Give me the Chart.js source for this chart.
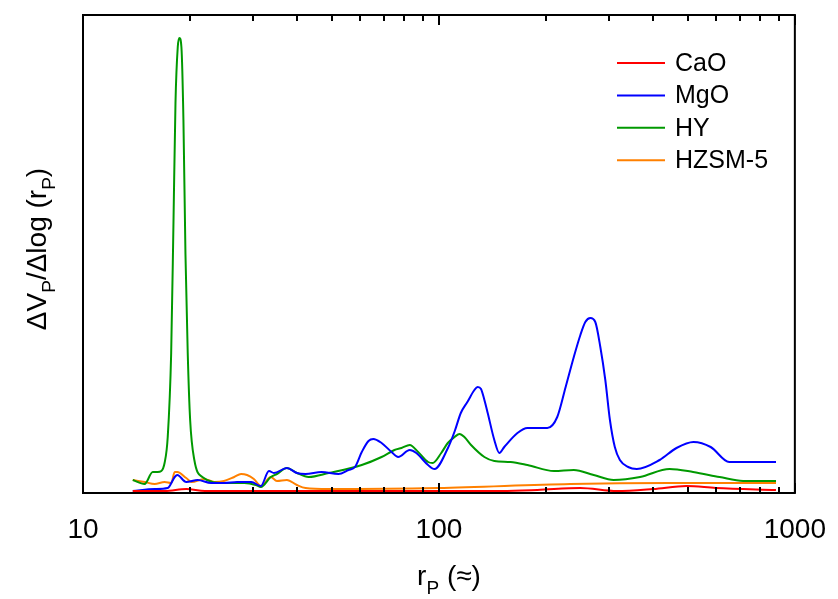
<!DOCTYPE html>
<html>
<head>
<meta charset="utf-8">
<script src="https://cdn.jsdelivr.net/npm/chart.js@4"></script>
<style>
  html, body { margin: 0; padding: 0; background: #fff; }
  #wrap { width: 838px; height: 599px; }
</style>
</head>
<body>
<div id="wrap"><canvas id="grafico" width="838" height="599"></canvas></div>
<script>
// pore radius (x) and dV/dlog(r) values (arbitrary units)
const rCaO = [13.8, 17.0, 19.5, 22.0, 30.0, 50.0, 99.4, 150, 189, 249.3, 316.2, 400, 496.1, 600, 885];
const vCaO = [2, 2, 4, 2, 2, 2, 2, 2, 3, 5, 2, 4, 7, 5, 3];

const rMgO = [13.8, 15.9, 17.3, 18.1, 18.4, 19.5, 21.0, 22.9, 24.9, 27.1, 29.7, 31.6, 33.3, 34.4, 37.4, 39.9, 42.2, 46.8, 52.2, 55.7,
    58.1, 60.7, 63.4, 65.4, 69.0, 73.6, 76.8, 82.8, 86.4, 93.2, 97.2, 106, 110.8, 115.2, 120.2, 125.8, 128.5, 131.3, 134.2, 137.1,
    143.1, 147.8, 152.6, 166.2, 177.3, 190, 201.6, 215.0, 227, 239.3, 249.7, 257.8, 266.3, 275.0, 284.1, 293.4, 302.3, 312, 322.4, 340,
    359.7, 417.0, 465, 518.9, 580, 654.0, 700, 885];
const vMgO = [2, 4, 5, 16, 18, 11, 13, 10, 10, 11, 11, 7, 22, 20, 25, 20, 19, 21, 19, 23,
    26, 41, 52, 54, 50, 41, 36, 43, 40, 28, 24, 45, 62, 80, 91, 103, 106, 104, 93, 80,
    53, 40, 46, 60, 65, 65, 65, 76, 106, 136, 158, 171, 175, 171, 146, 113, 73, 46, 33, 26,
    24, 33, 45, 51, 46, 31, 31, 31];

const rHY = [13.8, 14.9, 15.7, 16.2, 16.6, 16.95, 17.3, 17.69, 17.96, 18.19, 18.46, 18.66, 18.90, 19.15, 19.40, 19.69, 20.0, 20.55, 21.64,
    24.9, 26.6, 28.4, 30.6, 31.6, 33.7, 35.05, 37.4, 39.9, 43.06, 49.0, 60.7, 69.0, 75.0, 78.5, 82.8, 87.4, 93.2, 96, 101.5, 105.9,
    110.6, 114.3, 117.9, 123.1, 134.2, 143.1, 158.9, 177.3, 210.5, 239.3, 272.2, 309.7, 367.4, 444.6, 517.8, 614.5, 715.6, 885];
const vHY = [13, 9, 21, 21, 22, 30, 56, 140, 273, 390, 446, 455, 446, 373, 240, 140, 73, 33, 16,
    10, 10, 10, 8, 6, 16, 19, 25, 20, 16, 20, 28, 36, 43, 45, 48, 41, 31, 30, 40, 50,
    56, 59, 56, 48, 36, 32, 31, 28, 22, 23, 18, 13, 16, 24, 21, 16, 12, 12];

const rHZSM = [13.8, 14.9, 15.9, 16.95, 17.7, 18.1, 18.4, 19.5, 20.2, 21.9, 23.4, 24.9, 26.6, 27.8, 28.9, 30.2, 31.6, 33.7, 35.05,
    37.4, 39.9, 42.2, 49.0, 99.4, 233.8, 444.6, 885];
const vHZSM = [13, 11, 9, 11, 10, 21, 21, 15, 11, 14, 11, 12, 16, 19, 18, 14, 7, 16, 12,
    13, 8, 5, 4, 5, 9, 10, 10];

const nomes = ["CaO", "MgO", "HY", "HZSM-5"];
const cores = ["#ff0000", "#0000ff", "#009900", "#ff8000"];
const ticksX = [10, 20, 30, 40, 50, 60, 70, 80, 90, 100, 200, 300, 400, 500, 600, 700, 800, 900, 1000];
const rotulosX = [10, 100, 1000];

const fonte = "'Liberation Sans', Arial, sans-serif";

function pares(xs, ys) {
    return xs.map((x, i) => ({ x: x, y: ys[i] }));
}

// text with subscript pieces, centred on (x, y) baseline
function textoComIndice(ctx, partes, x, y, tam) {
    const sub = Math.round(tam * 0.68);
    let largura = 0;
    partes.forEach(p => {
        ctx.font = (p[1] ? sub : tam) + "px " + fonte;
        largura += ctx.measureText(p[0]).width;
    });
    let cx = x - largura / 2;
    ctx.textAlign = "left";
    ctx.textBaseline = "alphabetic";
    partes.forEach(p => {
        ctx.font = (p[1] ? sub : tam) + "px " + fonte;
        ctx.fillText(p[0], cx, p[1] ? y + tam * 0.32 : y);
        cx += ctx.measureText(p[0]).width;
    });
}

const moldura = {
    id: "moldura",
    afterDraw(chart) {
        const ctx = chart.ctx;
        const a = chart.chartArea;
        const sx = chart.scales.x;
        ctx.save();
        ctx.strokeStyle = "#000";
        ctx.fillStyle = "#000";

        // inward ticks, bottom and top
        ctx.lineWidth = 2;
        ticksX.forEach(v => {
            const px = Math.round(sx.getPixelForValue(v));
            const len = rotulosX.includes(v) ? 10 : 6;
            ctx.beginPath();
            ctx.moveTo(px, a.bottom);
            ctx.lineTo(px, a.bottom - len);
            ctx.moveTo(px, a.top);
            ctx.lineTo(px, a.top + len);
            ctx.stroke();
        });

        ctx.lineWidth = 2;
        ctx.strokeRect(a.left, a.top, a.right - a.left, a.bottom - a.top);

        // legend
        ctx.lineWidth = 2;
        chart.data.datasets.forEach((ds, i) => {
            const y = 63 + i * 32.4;
            ctx.strokeStyle = ds.borderColor;
            ctx.beginPath();
            ctx.moveTo(617, y);
            ctx.lineTo(665, y);
            ctx.stroke();
            ctx.font = "25px " + fonte;
            ctx.textAlign = "left";
            ctx.textBaseline = "middle";
            ctx.fillText(ds.label, 675, y + 1);
        });

        // axis titles
        textoComIndice(ctx, [["r", false], ["P", true], [" (\u2248)", false]], 449, 585, 28);
        ctx.save();
        ctx.translate(46, 249);
        ctx.rotate(-Math.PI / 2);
        textoComIndice(ctx, [["\u0394V", false], ["P", true], ["/\u0394log (r", false], ["P", true], [")", false]], 0, 0, 28);
        ctx.restore();

        ctx.restore();
    }
};

const series = [pares(rCaO, vCaO), pares(rMgO, vMgO), pares(rHY, vHY), pares(rHZSM, vHZSM)];

const config = {
    type: "line",
    data: {
        datasets: series.map((d, i) => ({
            label: nomes[i],
            data: d,
            borderColor: cores[i],
            backgroundColor: cores[i],
            borderWidth: 2,
            pointRadius: 0,
            cubicInterpolationMode: "monotone",
            fill: false
        }))
    },
    options: {
        responsive: false,
        animation: false,
        devicePixelRatio: 1,
        layout: { padding: { top: 15, right: 38, left: 0, bottom: 0 } },
        plugins: {
            legend: { display: false },
            tooltip: { enabled: false }
        },
        scales: {
            x: {
                type: "logarithmic",
                min: 10,
                max: 1000,
                afterBuildTicks: s => { s.ticks = ticksX.map(v => ({ value: v })); },
                afterFit: s => { s.height = 106; },
                grid: { display: false },
                border: { display: false },
                ticks: {
                    autoSkip: false,
                    maxRotation: 0,
                    padding: 12,
                    color: "#000",
                    font: { family: fonte, size: 28 },
                    callback: v => rotulosX.includes(v) ? String(v) : ""
                }
            },
            y: {
                min: 0,
                max: 478,
                afterFit: s => { s.width = 83; },
                grid: { display: false },
                border: { display: false },
                ticks: { display: false }
            }
        }
    },
    plugins: [moldura]
};

new Chart(document.getElementById("grafico"), config);
</script>
</body>
</html>
